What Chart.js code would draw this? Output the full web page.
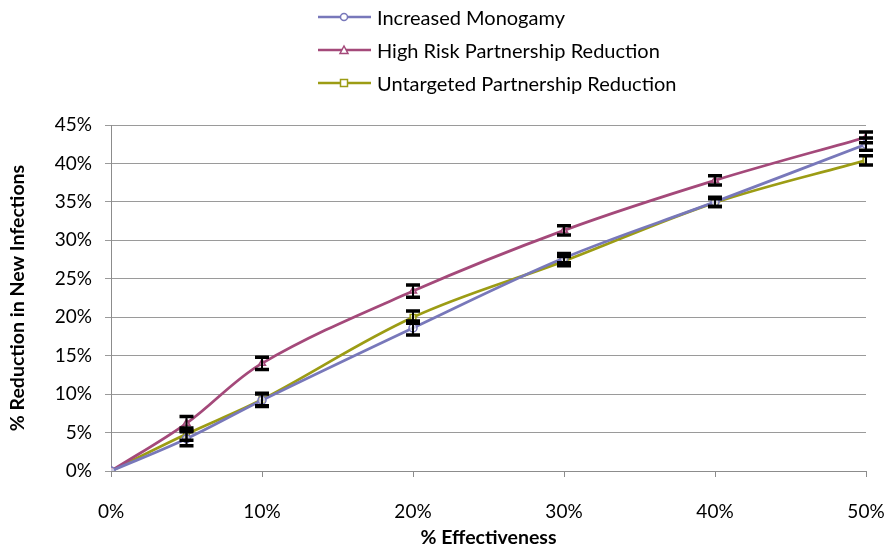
<!DOCTYPE html>
<html>
<head>
<meta charset="utf-8">
<script src="https://cdn.jsdelivr.net/npm/chart.js@4/dist/chart.umd.min.js"></script>
<style>
  html, body { margin: 0; padding: 0; background: #fff; }
  #wrap { position: relative; width: 891px; height: 550px; }
  #legend { position: absolute; left: 318px; top: 0px; font-family: Lato, "Open Sans", sans-serif; font-size: 20px; color: #000; }
  .item { display: flex; align-items: center; height: 33px; }
  .item svg { margin-right: 6px; }
</style>
</head>
<body>
<div id="wrap">
  <canvas id="c" width="891" height="550"></canvas>
  <div id="legend"></div>
</div>
<script>
// Effectiveness levels (%)
const effectiveness = [0, 5, 10, 20, 30, 40, 50];

// % reduction in new infections per intervention
const monogamy     = [0, 4.2, 9.2, 18.6, 27.7, 35.0, 42.5];
const highRisk     = [0, 6.2, 14.0, 23.4, 31.3, 37.8, 43.4];
const untargeted   = [0, 4.8, 9.3, 20.0, 27.3, 34.9, 40.4];

// Error bar half-widths (% points)
const monogamyErr   = [0, 0.9, 0.8, 0.9, 0.6, 0.6, 0.8];
const highRiskErr   = [0, 0.9, 0.8, 0.8, 0.6, 0.6, 0.7];
const untargetedErr = [0, 0.8, 0.8, 0.8, 0.6, 0.5, 0.6];

const seriesNames = ['Increased Monogamy', 'High Risk Partnership Reduction', 'Untargeted Partnership Reduction'];
const xTicks = [0, 10, 20, 30, 40, 50];
const yTicks = [0, 5, 10, 15, 20, 25, 30, 35, 40, 45];

const colors = ['#7878BA', '#A4497A', '#9C9C14'];
const markers = ['circle', 'triangle', 'rect'];
const values = [monogamy, highRisk, untargeted];
const errors = [monogamyErr, highRiskErr, untargetedErr];

const FONT = 'Lato, "Open Sans", sans-serif';

const datasets = values.map((vals, i) => ({
  label: seriesNames[i],
  data: effectiveness.map((x, j) => ({ x: x, y: vals[j] })),
  errors: errors[i],
  borderColor: colors[i],
  backgroundColor: '#ffffff',
  borderWidth: 2.75,
  pointStyle: markers[i],
  pointRadius: 4,
  pointBorderWidth: 1.5,
  pointBorderColor: colors[i],
  pointBackgroundColor: 'rgba(255,255,255,0.6)',
  tension: 0.35,
  fill: false
}));

// Draws black vertical error bars with caps from each dataset's errors
const errorBars = {
  id: 'errorBars',
  afterDatasetsDraw(chart) {
    const ctx = chart.ctx;
    const xs = chart.scales.x, ys = chart.scales.y;
    ctx.save();
    ctx.strokeStyle = '#000';
    chart.data.datasets.forEach(ds => {
      ds.data.forEach((p, j) => {
        const e = ds.errors[j];
        if (!e) return;
        const px = xs.getPixelForValue(p.x);
        const top = ys.getPixelForValue(p.y + e);
        const bot = ys.getPixelForValue(p.y - e);
        ctx.lineWidth = 2;
        ctx.beginPath();
        ctx.moveTo(px, top); ctx.lineTo(px, bot);
        ctx.stroke();
        ctx.lineWidth = 3.5;
        ctx.beginPath();
        ctx.moveTo(px - 7, top); ctx.lineTo(px + 7, top);
        ctx.moveTo(px - 7, bot); ctx.lineTo(px + 7, bot);
        ctx.stroke();
      });
    });
    ctx.restore();
  }
};

new Chart(document.getElementById('c'), {
  type: 'line',
  data: { datasets: datasets },
  plugins: [errorBars],
  options: {
    responsive: false,
    animation: false,
    layout: { padding: { left: 0, top: 125, right: 25, bottom: 0 } },
    plugins: { legend: { display: false }, tooltip: { enabled: false } },
    scales: {
      x: {
        type: 'linear',
        min: 0, max: 50,
        afterBuildTicks: s => { s.ticks = xTicks.map(v => ({ value: v })); },
        afterFit: s => { s.height = 79; s.paddingLeft = 0; s.paddingRight = 0; },
        ticks: { callback: v => v + '%', color: '#000', font: { family: FONT, size: 19 }, padding: 23, maxRotation: 0 },
        grid: { drawOnChartArea: false, drawTicks: true, tickLength: 6, color: '#8c8c8c' },
        border: { display: true, color: '#8c8c8c', width: 1 },
        title: { display: true, text: '% Effectiveness', color: '#000', font: { family: FONT, size: 19.5, weight: 'bold' }, padding: { top: 0, bottom: 1 } }
      },
      y: {
        type: 'linear',
        min: 0, max: 45,
        afterBuildTicks: s => { s.ticks = yTicks.map(v => ({ value: v })); },
        afterFit: s => { s.width = 111; },
        ticks: { callback: v => v + '%', color: '#000', font: { family: FONT, size: 19 }, padding: 13 },
        grid: { color: '#9a9a9a', lineWidth: 1, tickLength: 6, drawTicks: true },
        border: { display: true, color: '#8c8c8c', width: 1 },
        title: { display: true, text: '% Reduction in New Infections', color: '#000', font: { family: FONT, size: 19.5, weight: 'bold' }, padding: { top: 6, bottom: 0 } }
      }
    }
  }
});

// Legend: one entry per row, line with marker, then the series name
const legend = document.getElementById('legend');
seriesNames.forEach((name, i) => {
  const c = colors[i];
  let mark;
  if (markers[i] === 'circle') mark = `<circle cx="26" cy="8" r="3.5" fill="#fff" stroke="${c}" stroke-width="1.5"/>`;
  else if (markers[i] === 'triangle') mark = `<polygon points="26,4 30,11.5 22,11.5" fill="#fff" stroke="${c}" stroke-width="1.5"/>`;
  else mark = `<rect x="22.5" y="4.5" width="7" height="7" fill="#fff" stroke="${c}" stroke-width="1.5"/>`;
  const row = document.createElement('div');
  row.className = 'item';
  row.innerHTML = `<svg width="53" height="16"><line x1="0" y1="8" x2="53" y2="8" stroke="${c}" stroke-width="2.5"/>${mark}</svg><span>${name}</span>`;
  legend.appendChild(row);
});
</script>
</body>
</html>
